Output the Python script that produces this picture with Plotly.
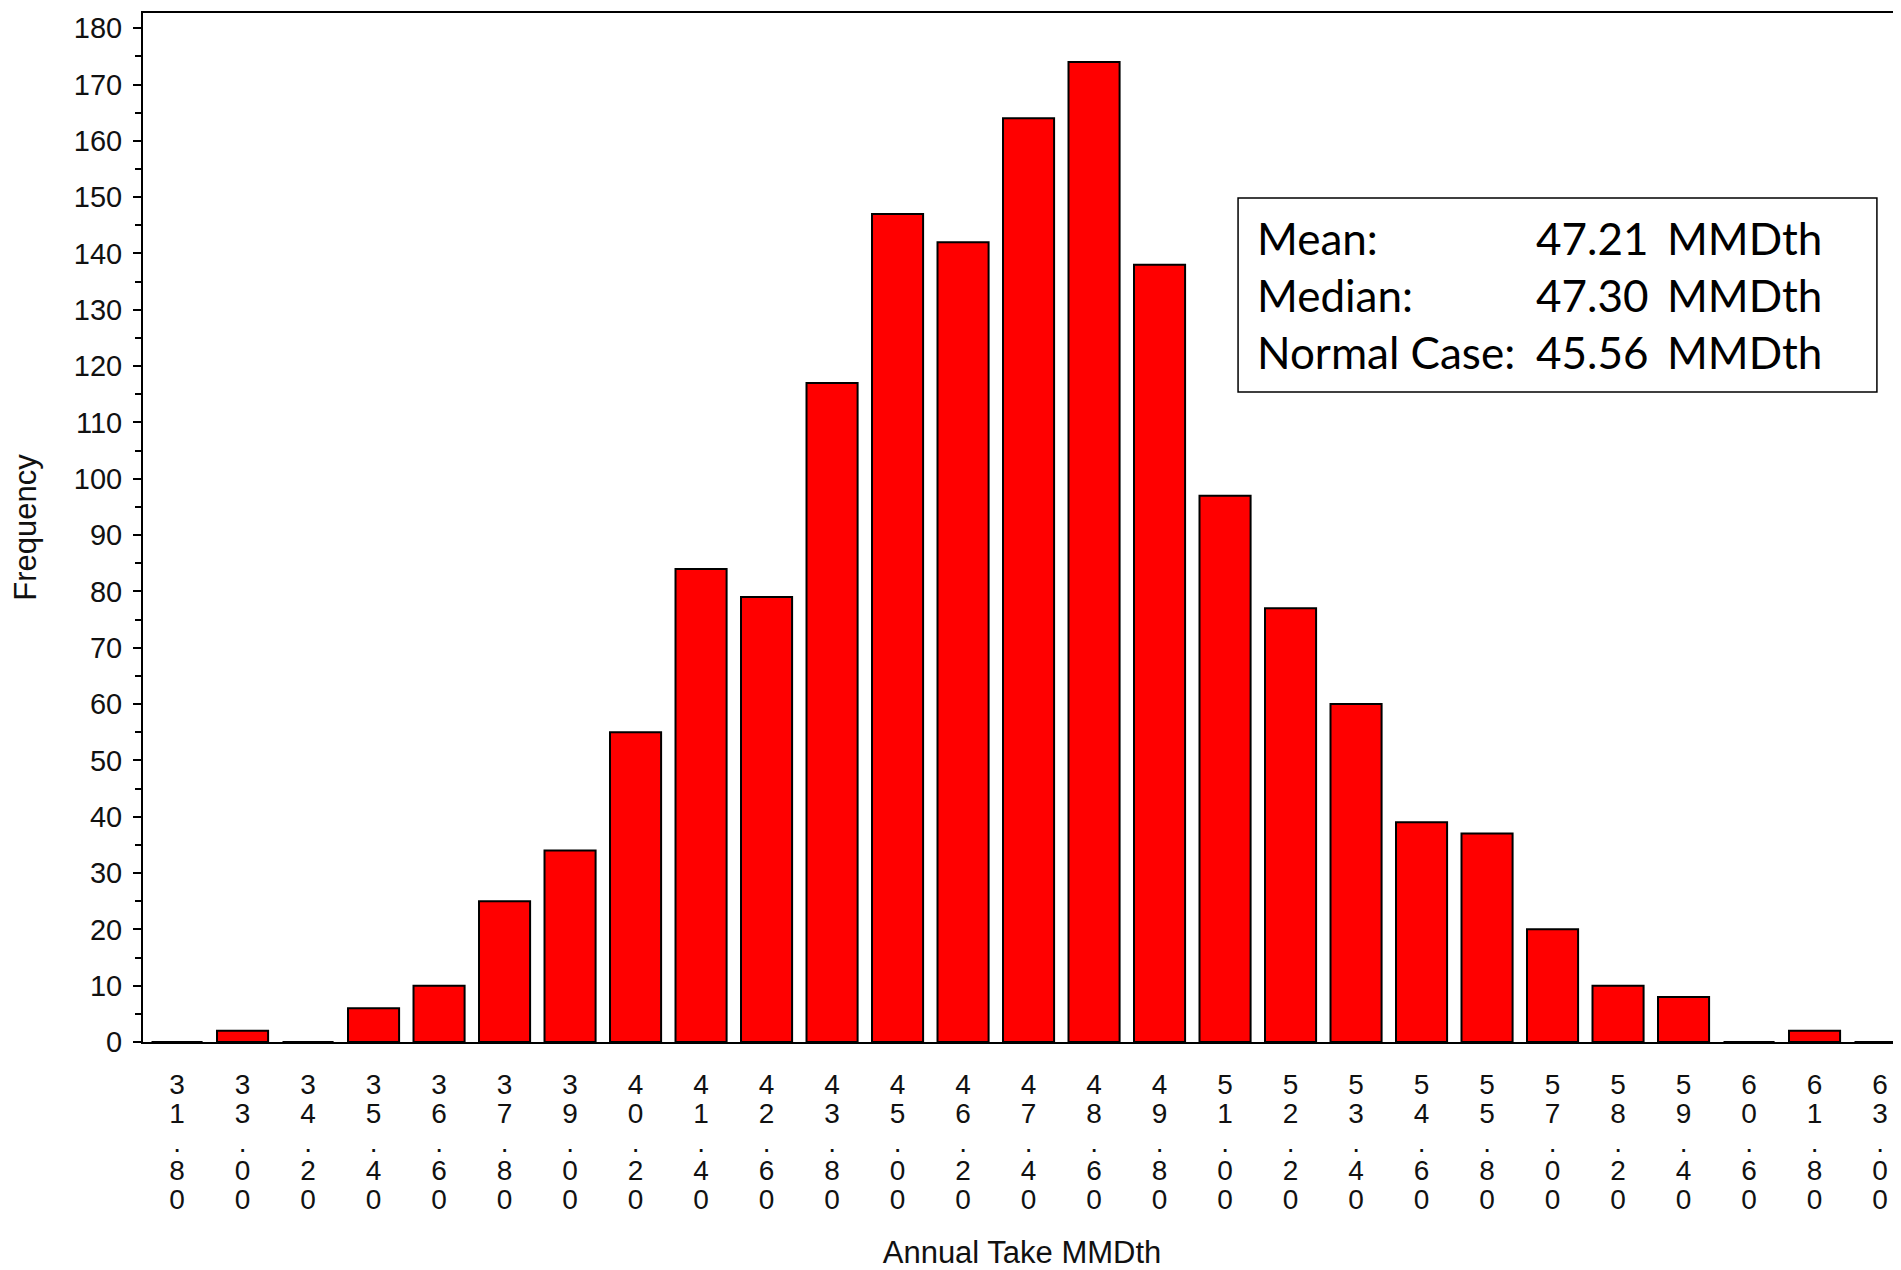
import plotly.graph_objects as go

# Data
bins = ["31.80", "33.00", "34.20", "35.40", "36.60", "37.80", "39.00", "40.20", "41.40",
        "42.60", "43.80", "45.00", "46.20", "47.40", "48.60", "49.80", "51.00", "52.20",
        "53.40", "54.60", "55.80", "57.00", "58.20", "59.40", "60.60", "61.80", "63.00"]
freq = [0, 2, 0, 6, 10, 25, 34, 55, 84, 79, 117, 147, 142, 164, 174, 138, 97, 77,
        60, 39, 37, 20, 10, 8, 0, 2, 0]

stat_labels = ["Mean:", "Median:", "Normal Case:"]
stat_values = [47.21, 47.30, 45.56]
stat_unit = "MMDth"

x_title = "Annual Take MMDth"
y_title = "Frequency"

# vertical (one character per line) tick labels
def vlabel(s):
    return "<br>".join(f"<span style='font-size:28px'>{ch}</span>" for ch in s)

ticktext = [vlabel(b) for b in bins]

fig = go.Figure()
fig.add_trace(go.Bar(
    x=bins, y=freq,
    marker=dict(color="#FF0000", line=dict(color="black", width=2)),
    width=0.78,
    hoverinfo="x+y",
))

fig.update_layout(
    width=1893, height=1262,
    margin=dict(l=135, r=0, t=5, b=228, pad=0),
    plot_bgcolor="white", paper_bgcolor="white",
    showlegend=False,
    font=dict(family="Liberation Sans, Arial, sans-serif", color="#111111"),
)

fig.update_xaxes(
    type="category",
    range=[-0.52, 26.32],
    showline=True, linecolor="black", linewidth=2, mirror=True,
    ticks="", tickvals=bins, ticktext=ticktext,
    tickfont=dict(size=22, color="#111111"), tickangle=0,
    ticklabelstandoff=24,
    showgrid=False, zeroline=False,
    automargin=False,
    title=dict(text=x_title, font=dict(size=31, color="#111111"), standoff=40),
)

fig.update_yaxes(
    range=[0, 182.7],
    tick0=0, dtick=10,
    ticks="outside", ticklen=8, tickwidth=2, tickcolor="black",
    minor=dict(dtick=5, ticks="outside", ticklen=6, tickwidth=2, tickcolor="black", showgrid=False),
    showline=True, linecolor="black", linewidth=2, mirror=False,
    tickfont=dict(size=29, color="#111111"),
    ticklabelstandoff=5,
    showgrid=False, zeroline=False,
    automargin=False,
    title=dict(text=y_title, font=dict(size=31, color="#111111"), standoff=29),
)

# statistics box
fig.add_shape(type="rect", xref="paper", yref="paper",
              x0=0.6229, x1=0.9863, y0=0.6317, y1=0.8202,
              line=dict(color="black", width=1.5), fillcolor="rgba(0,0,0,0)")

box_font = dict(family="Lato, Carlito, sans-serif", size=44, color="black")
fig.add_annotation(xref="paper", yref="paper", x=0.6326, y=0.7255,
                   xanchor="left", yanchor="middle", align="left", showarrow=False,
                   text="<br>".join(stat_labels), font=box_font)
fig.add_annotation(xref="paper", yref="paper", x=0.7915, y=0.7255,
                   xanchor="left", yanchor="middle", align="left", showarrow=False,
                   text="<br>".join(f"{v:.2f}" for v in stat_values), font=box_font)
fig.add_annotation(xref="paper", yref="paper", x=0.8658, y=0.7255,
                   xanchor="left", yanchor="middle", align="left", showarrow=False,
                   text="<br>".join(stat_unit for _ in stat_values), font=box_font)

fig.write_html("out.html")
